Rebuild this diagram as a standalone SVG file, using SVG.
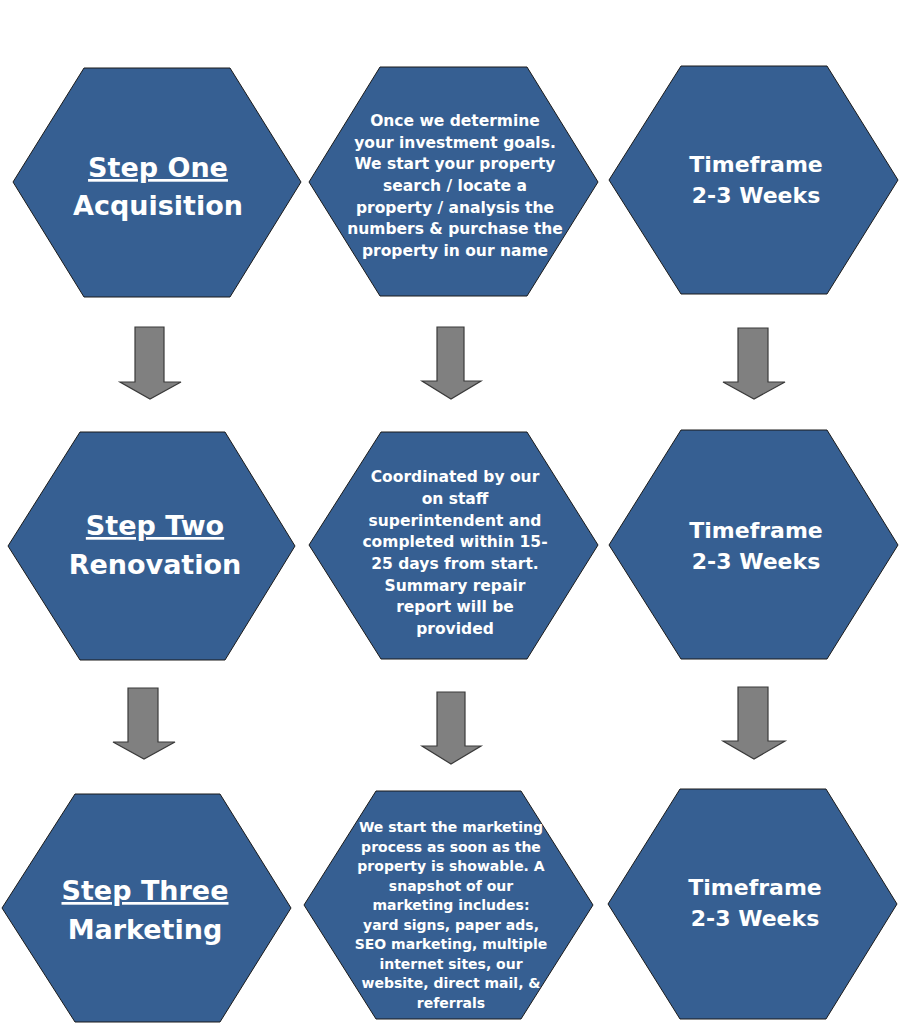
<svg xmlns="http://www.w3.org/2000/svg" width="900" height="1024" viewBox="0 0 900 1024">
<style>
.hex{fill:#365F92;stroke:#1a1a1a;stroke-width:1}
.arr{fill:#808080;stroke:#3a3a3a;stroke-width:1.2}
text{font-family:"DejaVu Sans","Liberation Sans",sans-serif;font-weight:bold;fill:#ffffff;text-anchor:middle}
.big{font-size:27px}
.tf{font-size:22px}
.sm{font-size:15.5px}
.xs{font-size:14px}
</style>
<rect width="900" height="1024" fill="#ffffff"/>
<g id="connectors">
<polygon class="arr" points="135,327 164,327 164,382 181,382 150,399 120,382 135,382"/>
<polygon class="arr" points="437,327 464,327 464,381 481,381 451,399 422,381 437,381"/>
<polygon class="arr" points="738,328 768,328 768,382 785,382 754,399 723,382 738,382"/>
<polygon class="arr" points="128,688 158,688 158,742 175,742 144,759 113,742 128,742"/>
<polygon class="arr" points="437,692 465,692 465,746 481,746 451,764 422,746 437,746"/>
<polygon class="arr" points="738,687 768,687 768,741 785,741 754,759 723,741 738,741"/>
</g>
<g id="step-one">
<polygon class="hex" points="84,68 230,68 301,182 230,297 84,297 13,182"/>
<text class="big" x="158" y="177" text-decoration="underline">Step One</text>
<text class="big" x="158" y="215">Acquisition</text>
</g>
<g id="acquisition-desc">
<polygon class="hex" points="380,67 527,67 598,182 527,296 380,296 309,182"/>
<text class="sm" x="455" y="126">Once we determine</text>
<text class="sm" x="455" y="147.5">your investment goals.</text>
<text class="sm" x="455" y="169">We start your property</text>
<text class="sm" x="455" y="191">search / locate a</text>
<text class="sm" x="455" y="212.5">property / analysis the</text>
<text class="sm" x="455" y="234">numbers &amp; purchase the</text>
<text class="sm" x="455" y="255.5">property in our name</text>
</g>
<g id="timeframe-1">
<polygon class="hex" points="681,66 827,66 898,180 827,294 681,294 609,180"/>
<text class="tf" x="756" y="172">Timeframe</text>
<text class="tf" x="756" y="203">2-3 Weeks</text>
</g>
<g id="step-two">
<polygon class="hex" points="80,432 225,432 295,546 225,660 80,660 8,546"/>
<text class="big" x="155" y="535" text-decoration="underline">Step Two</text>
<text class="big" x="155" y="574">Renovation</text>
</g>
<g id="renovation-desc">
<polygon class="hex" points="381,432 527,432 598,545 527,659 381,659 309,545"/>
<text class="sm" x="455" y="482">Coordinated by our</text>
<text class="sm" x="455" y="504">on staff</text>
<text class="sm" x="455" y="525.5">superintendent and</text>
<text class="sm" x="455" y="547">completed within 15-</text>
<text class="sm" x="455" y="569">25 days from start.</text>
<text class="sm" x="455" y="590.5">Summary repair</text>
<text class="sm" x="455" y="612">report will be</text>
<text class="sm" x="455" y="633.5">provided</text>
</g>
<g id="timeframe-2">
<polygon class="hex" points="681,430 827,430 898,545 827,659 681,659 609,545"/>
<text class="tf" x="756" y="538">Timeframe</text>
<text class="tf" x="756" y="569">2-3 Weeks</text>
</g>
<g id="step-three">
<polygon class="hex" points="75,794 220,794 291,908 220,1022 75,1022 2,908"/>
<text class="big" x="145" y="900" text-decoration="underline">Step Three</text>
<text class="big" x="145" y="939">Marketing</text>
</g>
<g id="marketing-desc">
<polygon class="hex" points="376,791 521,791 593,905 521,1019 376,1019 304,905"/>
<text class="xs" x="451" y="832">We start the marketing</text>
<text class="xs" x="451" y="851.5">process as soon as the</text>
<text class="xs" x="451" y="871">property is showable. A</text>
<text class="xs" x="451" y="890.5">snapshot of our</text>
<text class="xs" x="451" y="910">marketing includes:</text>
<text class="xs" x="451" y="929.5">yard signs, paper ads,</text>
<text class="xs" x="451" y="949">SEO marketing, multiple</text>
<text class="xs" x="451" y="968.5">internet sites, our</text>
<text class="xs" x="451" y="988">website, direct mail, &amp;</text>
<text class="xs" x="451" y="1007.5">referrals</text>
</g>
<g id="timeframe-3">
<polygon class="hex" points="680,789 826,789 897,904 826,1019 680,1019 608,904"/>
<text class="tf" x="755" y="895">Timeframe</text>
<text class="tf" x="755" y="926">2-3 Weeks</text>
</g>
</svg>
